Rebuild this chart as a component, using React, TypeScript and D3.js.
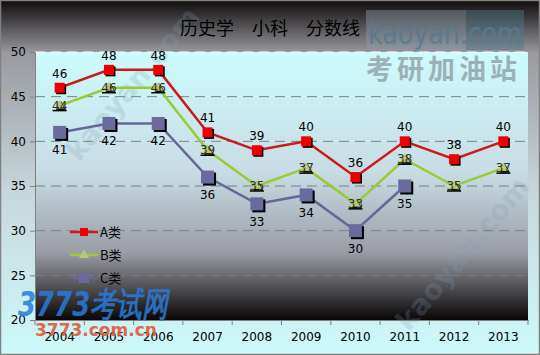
import React, { useEffect, useRef } from "react";
import * as d3 from "d3";

const years = ["2004", "2005", "2006", "2007", "2008", "2009", "2010", "2011", "2012", "2013"];
const seriesA = [46, 48, 48, 41, 39, 40, 36, 40, 38, 40];
const seriesB = [44, 46, 46, 39, 35, 37, 33, 38, 35, 37];
const seriesC = [41, 42, 42, 36, 33, 34, 30, 35];
const yTicks = [20, 25, 30, 35, 40, 45, 50];
const legendNames = ["A类", "B类", "C类"];

const W = 540;
const H = 355;

const App = () => {
  const ref = useRef<SVGSVGElement>(null);

  useEffect(() => {
    drawChart();
  }, []);

  const drawChart = () => {
    const svg = d3.select(ref.current);
    svg.selectAll("*").remove();

    const left = 35, right = 528, top = 52, bottom = 320;
    const x = d3.scaleBand().domain(years).range([left, right]);
    const y = d3.scaleLinear().domain([20, 50]).range([bottom, top]);
    const cx = (i: number) => x(years[i])! + x.bandwidth() / 2;

    const defs = svg.append("defs");
    const outer = defs.append("linearGradient").attr("id", "outerGrad")
      .attr("x1", 0).attr("y1", 0).attr("x2", 0).attr("y2", 1);
    outer.append("stop").attr("offset", "0%").attr("stop-color", "#0e0a0a");
    outer.append("stop").attr("offset", "15%").attr("stop-color", "#9a9aa0");
    outer.append("stop").attr("offset", "55%").attr("stop-color", "#c8d8dc");
    outer.append("stop").attr("offset", "100%").attr("stop-color", "#ccfafa");
    const inner = defs.append("linearGradient").attr("id", "innerGrad")
      .attr("x1", 0).attr("y1", 0).attr("x2", 0).attr("y2", 1);
    inner.append("stop").attr("offset", "0%").attr("stop-color", "#ccfcfc");
    inner.append("stop").attr("offset", "45%").attr("stop-color", "#c8dce4");
    inner.append("stop").attr("offset", "75%").attr("stop-color", "#9a9ca4");
    inner.append("stop").attr("offset", "100%").attr("stop-color", "#0a0606");

    svg.append("rect").attr("x", 0).attr("y", 0).attr("width", W).attr("height", H)
      .attr("fill", "url(#outerGrad)");
    svg.append("rect").attr("x", 0.5).attr("y", 0.5).attr("width", W - 1).attr("height", H - 1)
      .attr("fill", "none").attr("stroke", "#808080").attr("stroke-width", 1.5);

    svg.append("rect").attr("x", left).attr("y", top).attr("width", right - left).attr("height", bottom - top)
      .attr("fill", "url(#innerGrad)");

    // watermark top right
    svg.append("rect").attr("x", 366).attr("y", 10).attr("width", 100).attr("height", 40)
      .attr("fill", "#8898a4").attr("opacity", 0.45);
    svg.append("rect").attr("x", 466).attr("y", 10).attr("width", 58).attr("height", 40)
      .attr("fill", "#507888").attr("opacity", 0.45);
    svg.append("text").attr("x", 368).attr("y", 44).text("kaoyan.com")
      .attr("font-family", "DejaVu Sans").attr("font-size", 31).attr("fill", "#587a92")
      .attr("opacity", 0.85).attr("textLength", 154).attr("lengthAdjust", "spacingAndGlyphs");
    svg.append("text").attr("x", 366).attr("y", 79).text("考研加油站")
      .attr("font-family", "Noto Sans CJK SC").attr("font-weight", "bold").attr("font-size", 27)
      .attr("fill", "#98aaae").attr("opacity", 0.9).attr("letter-spacing", 4);

    // diagonal faint watermarks
    [[140, 90], [470, 260]].forEach(([wx, wy]) => {
      svg.append("text").attr("transform", `translate(${wx},${wy}) rotate(-50)`)
        .attr("text-anchor", "middle").text("kaoyan.com")
        .attr("font-family", "DejaVu Sans").attr("font-weight", "bold").attr("font-size", 28)
        .attr("fill", "#7fa0b8").attr("opacity", 0.22);
    });

    // title
    svg.append("text").attr("x", 270).attr("y", 35).attr("text-anchor", "middle")
      .text("历史学　小科　分数线")
      .attr("font-family", "Noto Sans CJK SC").attr("font-size", 18).attr("fill", "#000");

    // gridlines
    svg.append("g").selectAll("line").data(yTicks.filter(d => d > 20)).enter().append("line")
      .attr("x1", left).attr("x2", right)
      .attr("y1", d => y(d)).attr("y2", d => y(d))
      .attr("stroke", d => (d === 50 ? "#ffffff" : "#7a8088"))
      .attr("stroke-width", 1)
      .attr("stroke-dasharray", "10,6");

    // axes
    const yAxis = svg.append("g").attr("transform", `translate(${left},0)`)
      .call(d3.axisLeft(y).tickValues(yTicks).tickSize(5).tickPadding(4));
    yAxis.select(".domain").attr("stroke", "#808080");
    yAxis.selectAll(".tick line").attr("stroke", "#808080");
    yAxis.selectAll("text").attr("font-family", "DejaVu Sans").attr("font-size", 12).attr("fill", "#000");

    const xAxis = svg.append("g").attr("transform", `translate(0,${bottom})`)
      .call(d3.axisBottom(x).tickSize(0).tickPadding(12));
    xAxis.select(".domain").attr("stroke", "#808080");
    xAxis.selectAll("text").attr("font-family", "DejaVu Sans").attr("font-size", 12).attr("fill", "#000");
    xAxis.selectAll(".bound").data(d3.range(years.length + 1)).enter().append("line")
      .attr("x1", i => left + i * x.step()).attr("x2", i => left + i * x.step())
      .attr("y1", 0).attr("y2", 5).attr("stroke", "#808080");

    // bottom-left watermark
    svg.append("text").attr("x", 18).attr("y", 316).text("3773考试网")
      .attr("font-family", "DejaVu Sans").attr("font-weight", "bold").attr("font-style", "italic")
      .attr("font-size", 34).attr("fill", "#2a7ad8").attr("opacity", 0.85).attr("textLength", 150)
      .attr("lengthAdjust", "spacingAndGlyphs");
    svg.append("text").attr("x", 35).attr("y", 336).text("3773.com.cn")
      .attr("font-family", "DejaVu Sans").attr("font-weight", "bold")
      .attr("font-size", 17).attr("fill", "#e05a3a").attr("opacity", 0.9);

    const line = d3.line<number>().x((d, i) => cx(i)).y(d => y(d));

    svg.append("path").datum(seriesC).attr("d", line).attr("fill", "none")
      .attr("stroke", "#666699").attr("stroke-width", 2.5);
    svg.append("path").datum(seriesB).attr("d", line).attr("fill", "none")
      .attr("stroke", "#99cc33").attr("stroke-width", 2.5);
    svg.append("path").datum(seriesA).attr("d", line).attr("fill", "none")
      .attr("stroke", "#cc1a1a").attr("stroke-width", 2.5);

    const numFont = "DejaVu Sans";

    // C markers
    const cm = svg.append("g");
    cm.selectAll(".sh").data(seriesC).enter().append("rect")
      .attr("x", (d, i) => cx(i) - 6.5 + 2).attr("y", d => y(d) - 6.5 + 2)
      .attr("width", 13).attr("height", 13).attr("fill", "#000");
    cm.selectAll(".mk").data(seriesC).enter().append("rect")
      .attr("x", (d, i) => cx(i) - 6.5).attr("y", d => y(d) - 6.5)
      .attr("width", 13).attr("height", 13).attr("fill", "#6a6a9c");
    cm.selectAll("text").data(seriesC).enter().append("text")
      .attr("x", (d, i) => cx(i)).attr("y", d => y(d) + 22).attr("text-anchor", "middle")
      .text(d => d).attr("font-family", numFont).attr("font-size", 12).attr("fill", "#000");

    // B markers
    const tri = d3.symbol().type(d3.symbolTriangle).size(45);
    const bm = svg.append("g");
    bm.selectAll(".sh").data(seriesB).enter().append("path")
      .attr("d", tri).attr("transform", (d, i) => `translate(${cx(i) + 1.5},${y(d) + 1.5})`)
      .attr("fill", "#000");
    bm.selectAll(".mk").data(seriesB).enter().append("path")
      .attr("d", tri).attr("transform", (d, i) => `translate(${cx(i)},${y(d)})`)
      .attr("fill", "#b8c878");
    bm.selectAll("line").data(seriesB).enter().append("line")
      .attr("x1", (d, i) => cx(i) - 7).attr("x2", (d, i) => cx(i) + 7)
      .attr("y1", d => y(d) + 5).attr("y2", d => y(d) + 5).attr("stroke", "#000").attr("stroke-width", 1.5);
    bm.selectAll("text").data(seriesB).enter().append("text")
      .attr("x", (d, i) => cx(i)).attr("y", d => y(d) + 4).attr("text-anchor", "middle")
      .text(d => d).attr("font-family", numFont).attr("font-size", 12).attr("fill", "#333322");

    // A markers
    const am = svg.append("g");
    am.selectAll(".sh").data(seriesA).enter().append("rect")
      .attr("x", (d, i) => cx(i) - 5 + 1.5).attr("y", d => y(d) - 5 + 1.5)
      .attr("width", 10).attr("height", 10).attr("fill", "#000");
    am.selectAll(".mk").data(seriesA).enter().append("rect")
      .attr("x", (d, i) => cx(i) - 5).attr("y", d => y(d) - 5)
      .attr("width", 10).attr("height", 10).attr("fill", "#ee0000");
    am.selectAll("text").data(seriesA).enter().append("text")
      .attr("x", (d, i) => cx(i)).attr("y", d => y(d) - 10).attr("text-anchor", "middle")
      .text(d => d).attr("font-family", numFont).attr("font-size", 12).attr("fill", "#000");

    // legend
    const colors = ["#cc1a1a", "#99cc33", "#666699"];
    const lg = svg.append("g").selectAll("g").data(legendNames).enter().append("g")
      .attr("transform", (d, i) => `translate(70,${232 + i * 23})`);
    lg.append("line").attr("x1", 0).attr("x2", 28).attr("y1", 0).attr("y2", 0)
      .attr("stroke", (d, i) => colors[i]).attr("stroke-width", 2.5);
    lg.filter((d, i) => i === 0).append("rect").attr("x", 10).attr("y", -4).attr("width", 8).attr("height", 8)
      .attr("fill", "#ee0000");
    lg.filter((d, i) => i === 1).append("path").attr("d", tri).attr("transform", "translate(14,0)")
      .attr("fill", "#b8c878");
    lg.filter((d, i) => i === 2).append("rect").attr("x", 9).attr("y", -5).attr("width", 10).attr("height", 10)
      .attr("fill", "#6a6a9c");
    lg.append("text").attr("x", 30).attr("y", 5).text(d => d)
      .attr("font-family", "Noto Sans CJK SC").attr("font-size", 13).attr("fill", "#000");
  };

  return (
    <div>
      <svg ref={ref} width={W} height={H} style={{ position: "absolute", left: 0, top: 0 }} />
    </div>
  );
};

export default App;
